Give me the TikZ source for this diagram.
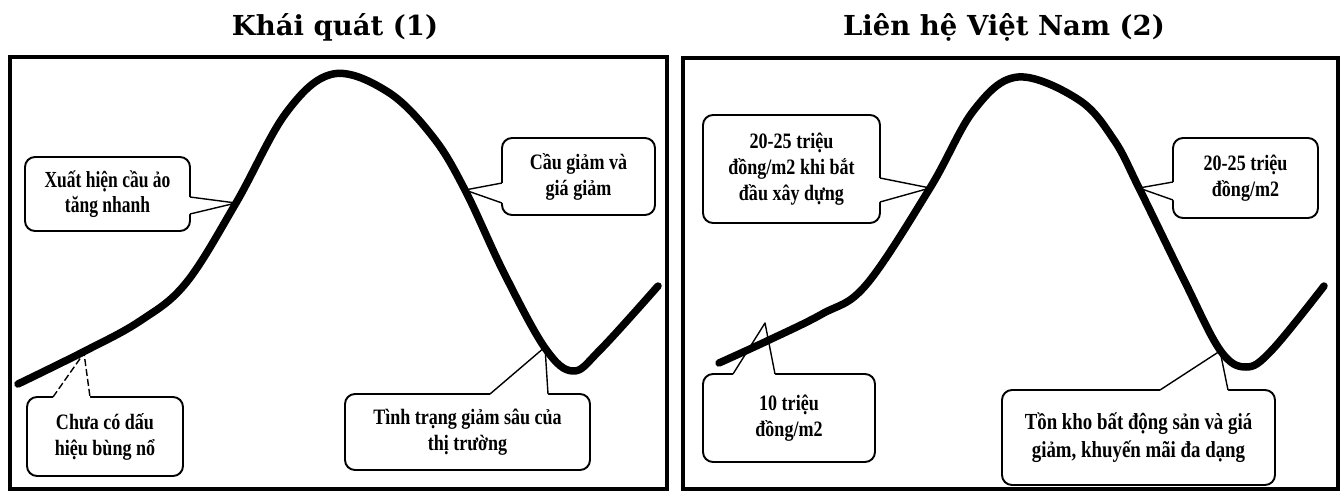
\documentclass[tikz,border=0pt]{standalone}
\usepackage{fontspec}
\setmainfont{Liberation Serif}
\newfontfamily\titlefont{DejaVu Serif}
\newfontfamily\callfont[FakeStretch=0.82]{Liberation Serif}
\newfontfamily\narrowfont[FakeStretch=0.76]{Liberation Serif}
\begin{document}
\begin{tikzpicture}[x=1pt,y=-1pt,
  frame/.style={line width=3.2pt},
  curve/.style={line width=7.5pt,line cap=round,line join=round},
  callout/.style={draw,line width=1.9pt,rounded corners=10pt,fill=white,outer sep=0pt,
    inner sep=0pt,align=center,font=\callfont\bfseries\fontsize{22}{26}\selectfont},
  tail/.style={line width=1.4pt,line join=round},
  titletext/.style={font=\titlefont\bfseries\fontsize{27.5}{30}\selectfont,anchor=base}]
\useasboundingbox (0,0) rectangle (1344,496);
\fill[white] (0,0) rectangle (1344,496);
% titles
\node[titletext] (t1) at (335,35) {Khái quát (1)};
\node[titletext] (t2) at (1004,35) {Liên hệ Việt Nam (2)};
% frames
\draw[frame] (10,57) rectangle (667,489);
\draw[frame] (683,58) rectangle (1338,489);
% ---------- left panel callouts
\node[callout,minimum width=165pt,minimum height=74pt,
  font=\narrowfont\bfseries\fontsize{23}{25}\selectfont] (l1) at (107.5,194)
  {Xuất hiện cầu ảo\\tăng nhanh};
\node[callout,minimum width=153pt,minimum height=77pt] (l2) at (578.5,176.5)
  {Cầu giảm và\\giá giảm};
\node[callout,minimum width=156pt,minimum height=79pt] (l3) at (105,436.5)
  {Chưa có dấu\\hiệu bùng nổ};
\node[callout,minimum width=245pt,minimum height=76pt] (l4) at (467.5,432)
  {Tình trạng giảm sâu của\\thị trường};
\coordinate (l1t) at (236,203);
\coordinate (l2t) at (465,190);
\coordinate (l3t) at (84,353);
\coordinate (l4t) at (545,347);
% tails
\fill[white] ([xshift=-2pt,yshift=-3pt]l1.east) -- ([yshift=-3pt]l1.east) -- (l1t) -- ([yshift=-20pt]l1.east) -- ([xshift=-2pt,yshift=-20pt]l1.east) -- cycle;
\draw[tail] ([yshift=-3pt]l1.east) -- (l1t) -- ([yshift=-20pt]l1.east);
\fill[white] ([xshift=2pt,yshift=-6.5pt]l2.west) -- ([yshift=-6.5pt]l2.west) -- (l2t) -- ([yshift=-26.5pt]l2.west) -- ([xshift=2pt,yshift=-26.5pt]l2.west) -- cycle;
\draw[tail] ([yshift=-6.5pt]l2.west) -- (l2t) -- ([yshift=-26.5pt]l2.west);
\fill[white] ([xshift=-52pt,yshift=-2pt]l3.north) -- ([xshift=-52pt]l3.north) -- (l3t) -- ([xshift=-15pt]l3.north) -- ([xshift=-15pt,yshift=-2pt]l3.north) -- cycle;
\draw[tail,dash pattern=on 7pt off 3pt] ([xshift=-52pt]l3.north) -- (l3t) -- ([xshift=-15pt]l3.north);
\fill[white] ([xshift=22.5pt,yshift=-2pt]l4.north) -- ([xshift=22.5pt]l4.north) -- (l4t) -- ([xshift=80.5pt]l4.north) -- ([xshift=80.5pt,yshift=-2pt]l4.north) -- cycle;
\draw[tail] ([xshift=22.5pt]l4.north) -- (l4t) -- ([xshift=80.5pt]l4.north);
% ---------- right panel callouts
\node[callout,minimum width=177pt,minimum height=108pt] (r1) at (791.5,169)
  {20-25 triệu\\đồng/m2 khi bắt\\đầu xây dựng};
\node[callout,minimum width=145pt,minimum height=80pt] (r2) at (1245.5,178)
  {20-25 triệu\\đồng/m2};
\node[callout,minimum width=172pt,minimum height=88pt] (r3) at (789,418)
  {10 triệu\\đồng/m2};
\node[callout,minimum width=273pt,minimum height=95pt,
  font=\callfont\bfseries\fontsize{23}{28}\selectfont] (r4) at (1138.5,437.5)
  {Tồn kho bất động sản và giá\\giảm, khuyến mãi đa dạng};
\coordinate (r1t) at (930,188);
\coordinate (r2t) at (1139,188);
\coordinate (r3t) at (765,323);
\coordinate (r4t) at (1220,351);
\fill[white] ([xshift=-2pt,yshift=-9pt]r1.east) -- ([yshift=-9pt]r1.east) -- (r1t) -- ([yshift=-33pt]r1.east) -- ([xshift=-2pt,yshift=-33pt]r1.east) -- cycle;
\draw[tail] ([yshift=-9pt]r1.east) -- (r1t) -- ([yshift=-33pt]r1.east);
\fill[white] ([xshift=2pt,yshift=-4pt]r2.west) -- ([yshift=-4pt]r2.west) -- (r2t) -- ([yshift=-22pt]r2.west) -- ([xshift=2pt,yshift=-22pt]r2.west) -- cycle;
\draw[tail] ([yshift=-4pt]r2.west) -- (r2t) -- ([yshift=-22pt]r2.west);
\fill[white] ([xshift=-56pt,yshift=-2pt]r3.north) -- ([xshift=-56pt]r3.north) -- (r3t) -- ([xshift=-14pt]r3.north) -- ([xshift=-14pt,yshift=-2pt]r3.north) -- cycle;
\draw[tail] ([xshift=-56pt]r3.north) -- (r3t) -- ([xshift=-14pt]r3.north);
\fill[white] ([xshift=21.5pt,yshift=-2pt]r4.north) -- ([xshift=21.5pt]r4.north) -- (r4t) -- ([xshift=89.5pt]r4.north) -- ([xshift=89.5pt,yshift=-2pt]r4.north) -- cycle;
\draw[tail] ([xshift=21.5pt]r4.north) -- (r4t) -- ([xshift=89.5pt]r4.north);
% ---------- curves
\draw[curve] plot[smooth,tension=0.6] coordinates {(18,384) (85,351) (140,321) (186,283) (236,203) (286,113) (333,74) (388,92) (433,137) (465,190) (504,273) (545,348) (573,371) (600,350) (658,286)};
\draw[curve] plot[smooth,tension=0.6] coordinates {(719,363) (767,341) (822,314) (866,285) (930,188) (974,110) (1018,77) (1079,100) (1114,140) (1139,188) (1184,280) (1220,350) (1246,367) (1272,350) (1324,286)};
\end{tikzpicture}
\end{document}
